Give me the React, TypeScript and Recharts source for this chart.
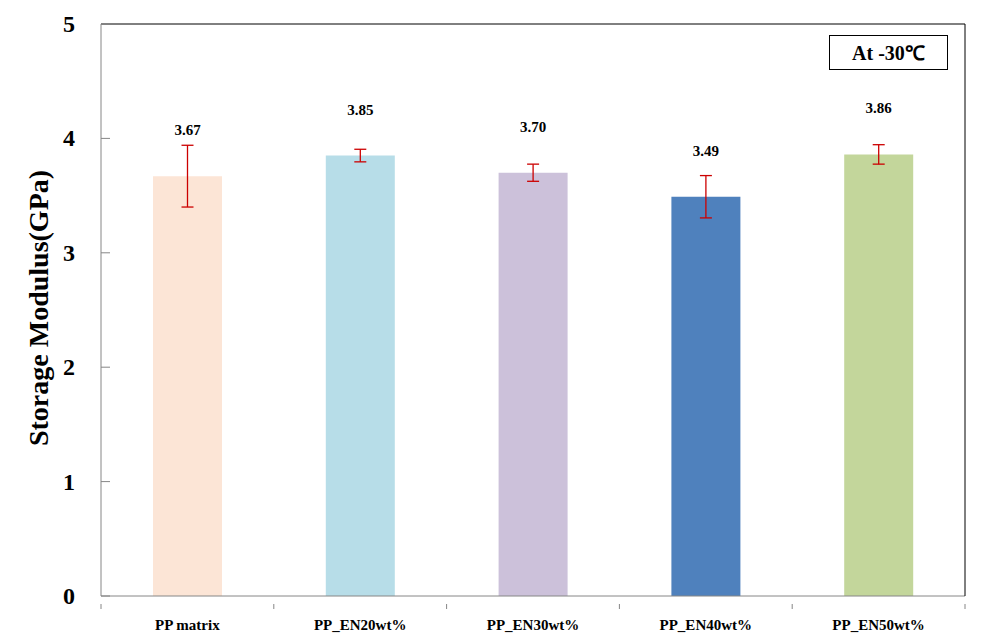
import React from "react";
import { BarChart, Bar, XAxis, YAxis, ErrorBar, LabelList, ReferenceLine, Cell } from "recharts";

const categories = ["PP matrix", "PP_EN20wt%", "PP_EN30wt%", "PP_EN40wt%", "PP_EN50wt%"];
const modulus = [3.67, 3.85, 3.7, 3.49, 3.86];
const errors = [0.27, 0.055, 0.075, 0.185, 0.085];
const barColors = ["#FCE5D6", "#B7DDE8", "#CCC1DA", "#4F81BD", "#C3D69B"];
const yTicks = [0, 1, 2, 3, 4, 5];

const data = categories.map((name, i) => ({ name, value: modulus[i], err: errors[i] }));

const font = '"Liberation Serif", "Times New Roman", serif';

const YTick = (props: any) => {
  const { x, y, payload } = props;
  return (
    <g>
      <line x1={x} x2={x + 9} y1={y} y2={y} stroke="#868686" strokeWidth={1} />
      <text x={x - 26} y={y} textAnchor="end" dominantBaseline="central" fontFamily={font} fontWeight="bold" fontSize={24} fill="#000">
        {payload.value}
      </text>
    </g>
  );
};

const XTick = (props: any) => {
  const { x, y, payload, index, width, visibleTicksCount } = props;
  const band = width / visibleTicksCount;
  const last = index === visibleTicksCount - 1;
  return (
    <g>
      <line x1={x - band / 2} x2={x - band / 2} y1={y} y2={y + 5} stroke="#868686" />
      {last && <line x1={x + band / 2} x2={x + band / 2} y1={y} y2={y + 5} stroke="#868686" />}
      <text x={x} y={y + 21} textAnchor="middle" dominantBaseline="central" fontFamily={font} fontWeight="bold" fontSize={15} fill="#000">
        {payload.value}
      </text>
    </g>
  );
};

const ValueLabel = (props: any) => {
  const { x, y, width, value } = props;
  return (
    <text x={x + width / 2} y={y - 46} textAnchor="middle" dominantBaseline="central" fontFamily={font} fontWeight="bold" fontSize={15} fill="#000">
      {Number(value).toFixed(2)}
    </text>
  );
};

const YTitle = (props: any) => {
  const { viewBox } = props;
  const cx = 38;
  const cy = viewBox.y + viewBox.height / 2 - 2;
  return (
    <text x={cx} y={cy} transform={`rotate(-90, ${cx}, ${cy})`} textAnchor="middle" dominantBaseline="central" fontFamily={font} fontWeight="bold" fontSize={28} fill="#000">
      Storage Modulus(GPa)
    </text>
  );
};

export default function App() {
  return (
    <div style={{ position: "absolute", left: 0, top: 0, width: 981, height: 641, background: "#fff" }}>
      <BarChart width={981} height={641} data={data} margin={{ top: 24, right: 0, bottom: 0, left: 0 }} barCategoryGap="0%">
        <XAxis dataKey="name" height={45} axisLine={{ stroke: "#868686" }} tickLine={false} tick={<XTick />} interval={0} />
        <YAxis
          yAxisId="left"
          width={101}
          domain={[0, 5]}
          ticks={yTicks}
          interval={0}
          tickSize={0}
          tickMargin={0}
          axisLine={{ stroke: "#868686" }}
          tickLine={false}
          tick={<YTick />}
          label={{ content: <YTitle /> }}
        />
        <YAxis yAxisId="right" orientation="right" width={16} domain={[0, 5]} axisLine={{ stroke: "#000" }} tickLine={false} tick={false} />
        <ReferenceLine yAxisId="left" y={5} stroke="#000" />
        <Bar yAxisId="left" dataKey="value" barSize={69} isAnimationActive={false}>
          {data.map((d, i) => (
            <Cell key={d.name} fill={barColors[i]} />
          ))}
          <ErrorBar dataKey="err" width={6} stroke="#CC0000" strokeWidth={1.3} direction="y" />
          <LabelList dataKey="value" content={<ValueLabel />} />
        </Bar>
      </BarChart>
      <div
        style={{
          position: "absolute",
          left: 829,
          top: 35,
          width: 117,
          height: 33,
          border: "1px solid #000",
          display: "flex",
          alignItems: "center",
          justifyContent: "center",
          fontFamily: font,
          fontWeight: "bold",
          fontSize: 20,
          background: "#fff",
        }}
      >
        At -30℃
      </div>
    </div>
  );
}
